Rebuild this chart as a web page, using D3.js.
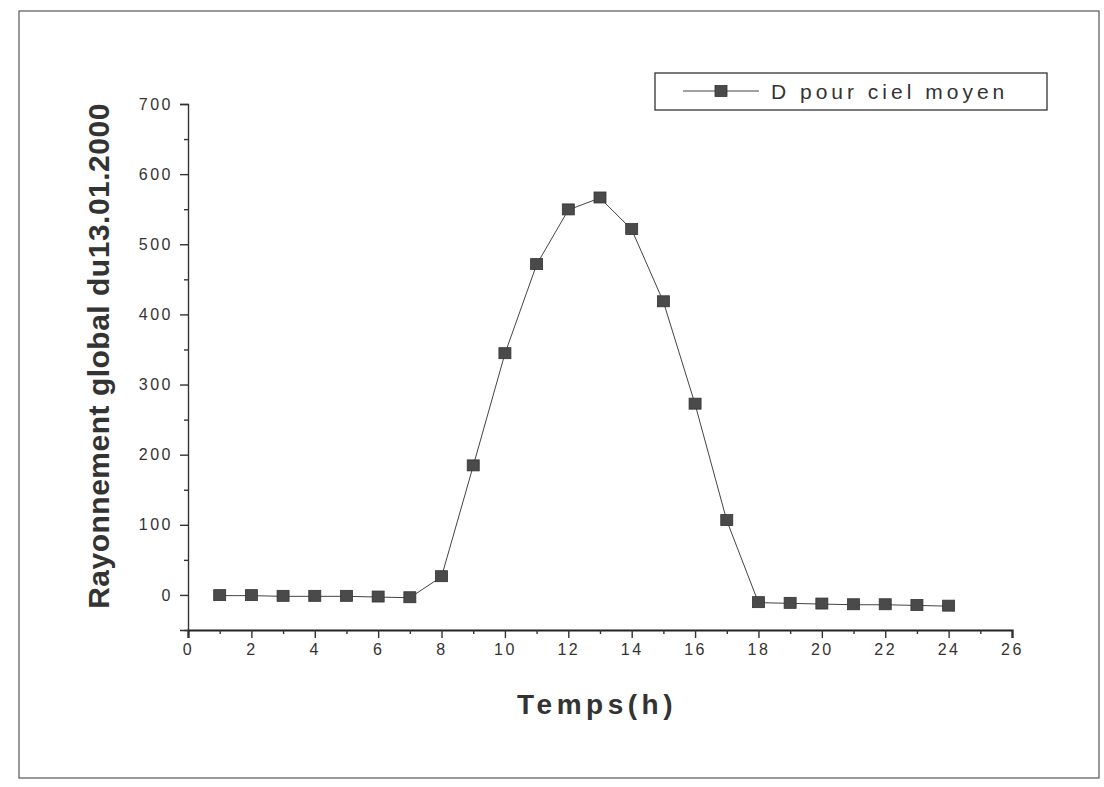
<!DOCTYPE html>
<html>
<head>
<meta charset="utf-8">
<script src="https://cdn.jsdelivr.net/npm/d3@7"></script>
<style>
  body { margin: 0; background: #fff; }
  text { font-family: Arial, "Liberation Sans", sans-serif; fill: #333; }
</style>
</head>
<body>
<div id="chart"></div>
<script>
// data
var hours = [1, 2, 3, 4, 5, 6, 7, 8, 9, 10, 11, 12, 13, 14, 15, 16, 17, 18, 19, 20, 21, 22, 23, 24];
var radiation = [-1, -1, -2, -2, -2, -3, -4, 26, 184, 344, 471, 549, 566, 521, 418, 272, 106, -11, -12, -13, -14, -14, -15, -16];
var xTicks = [0, 2, 4, 6, 8, 10, 12, 14, 16, 18, 20, 22, 24, 26];
var yTicks = [0, 100, 200, 300, 400, 500, 600, 700];
var seriesName = "D pour ciel moyen";

var W = 1104, H = 787;
var margin = {top: 104, right: 92, bottom: 157, left: 188};
var width = W - margin.left - margin.right,
    height = H - margin.top - margin.bottom;

var svg = d3.select("#chart")
  .append("svg")
    .attr("width", W)
    .attr("height", H);

// scanned page frame
svg.append("rect")
  .attr("x", 19).attr("y", 11)
  .attr("width", 1080).attr("height", 767)
  .attr("fill", "none")
  .attr("stroke", "#555")
  .attr("stroke-width", 1.2);

var g = svg.append("g")
  .attr("transform", "translate(" + margin.left + "," + margin.top + ")");

var x = d3.scaleLinear().domain([0, 26]).range([0, width]);
var y = d3.scaleLinear().domain([-50, 700]).range([height, 0]);

// x axis + minor ticks
var xAxisG = g.append("g")
  .attr("transform", "translate(0," + height + ")")
  .call(d3.axisBottom(x).tickValues(xTicks).tickSize(8).tickPadding(6));
var xMinor = g.append("g")
  .attr("transform", "translate(0," + height + ")")
  .call(d3.axisBottom(x).tickValues(d3.range(1, 26, 2)).tickSize(4).tickFormat(""));
xMinor.select("path.domain").remove();
xAxisG.select("path.domain").attr("stroke", "#222").attr("stroke-width", 2.2);

// y axis + minor ticks
var yAxisG = g.append("g")
  .call(d3.axisLeft(y).tickValues(yTicks).tickSize(8).tickPadding(7));
var yMinor = g.append("g")
  .call(d3.axisLeft(y).tickValues(d3.range(-50, 700, 100)).tickSize(4).tickFormat(""));
yMinor.select("path.domain").remove();
yAxisG.select("path.domain").attr("stroke", "#333").attr("stroke-width", 1.4);

g.selectAll(".tick line").attr("stroke", "#333").attr("stroke-width", 1.4);
g.selectAll(".tick text")
  .style("font-size", "16px")
  .style("letter-spacing", "2.5px")
  .attr("fill", "#333");

// the line
var line = d3.line()
  .x(function(d, i) { return x(hours[i]); })
  .y(function(d) { return y(d); });

g.append("path")
  .datum(radiation)
  .attr("fill", "none")
  .attr("stroke", "#444")
  .attr("stroke-width", 1)
  .attr("d", line);

// square markers
g.selectAll("rect.pt")
  .data(radiation)
  .join("rect")
  .attr("class", "pt")
  .attr("x", function(d, i) { return x(hours[i]) - 6; })
  .attr("y", function(d) { return y(d) - 6; })
  .attr("width", 12)
  .attr("height", 11)
  .attr("fill", "#4a4a4a")
  .attr("stroke", "#333")
  .attr("stroke-width", 0.8);

// axis titles
svg.append("text")
  .attr("x", 597)
  .attr("y", 714)
  .attr("text-anchor", "middle")
  .style("font-size", "28px")
  .style("font-weight", "bold")
  .style("letter-spacing", "4.5px")
  .text("Temps(h)");

svg.append("text")
  .attr("transform", "translate(109,356) rotate(-90)")
  .attr("text-anchor", "middle")
  .style("font-size", "30px")
  .style("font-weight", "bold")
  .style("letter-spacing", "0.5px")
  .text("Rayonnement global du13.01.2000");

// legend
var legend = svg.append("g").attr("transform", "translate(655,73)");
legend.append("rect")
  .attr("width", 392).attr("height", 37)
  .attr("fill", "#fff")
  .attr("stroke", "#333")
  .attr("stroke-width", 1.3);
legend.append("line")
  .attr("x1", 28).attr("x2", 104)
  .attr("y1", 18).attr("y2", 18)
  .attr("stroke", "#444").attr("stroke-width", 1.2);
legend.append("rect")
  .attr("x", 60).attr("y", 12.5)
  .attr("width", 12).attr("height", 11)
  .attr("fill", "#4a4a4a").attr("stroke", "#333").attr("stroke-width", 0.8);
legend.append("text")
  .attr("x", 116).attr("y", 26)
  .style("font-size", "21px")
  .style("letter-spacing", "4px")
  .text(seriesName);
</script>
</body>
</html>
